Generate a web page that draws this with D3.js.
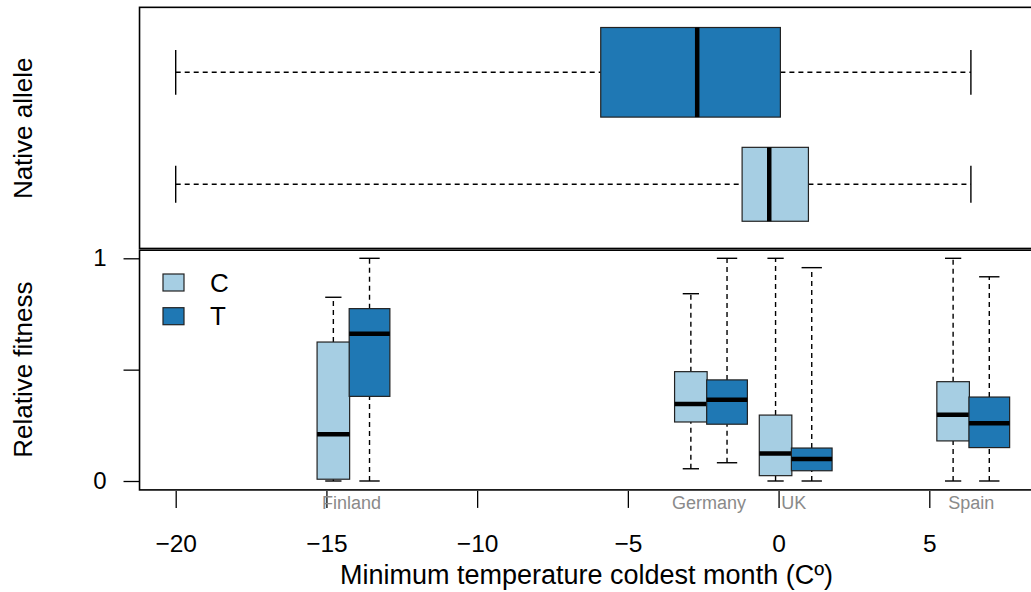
<!DOCTYPE html>
<html>
<head>
<meta charset="utf-8">
<script src="https://cdn.jsdelivr.net/npm/d3@7"></script>
<style>
  body { margin: 0; background: #fff; }
  svg { display: block; font-family: "Liberation Sans", Arial, Helvetica, sans-serif; }
</style>
</head>
<body>
<div id="chart"></div>
<script>
//Datos
const alleles = ['C', 'T'];
const countries = ['Finland', 'Germany', 'UK', 'Spain'];
const countryTemp = [-14.17, -2.31, 0.5, 6.39];

//[min, q1, mediana, q3, max] por país
const fitnessC = [
    [0, 0.008, 0.21, 0.624, 0.825],
    [0.055, 0.265, 0.346, 0.491, 0.841],
    [0, 0.024, 0.124, 0.296, 1.0],
    [0, 0.18, 0.298, 0.446, 1.0]
];
const fitnessT = [
    [0, 0.38, 0.661, 0.774, 1.0],
    [0.082, 0.255, 0.365, 0.454, 1.0],
    [0, 0.046, 0.099, 0.148, 0.958],
    [0, 0.15, 0.259, 0.377, 0.917]
];

//Temperatura mínima del rango nativo de cada alelo
const nativeC = [-20, -1.21, -0.31, 0.99, 6.38];
const nativeT = [-20, -5.90, -2.70, 0.06, 6.38];

const xTicks = [-20, -15, -10, -5, 0, 5];
const yTicks = [0, 0.5, 1];
const yTickLabels = ['0', '', '1'];

//Colores
const COLOR_C = '#A6CEE3', COLOR_T = '#1F78B4';
const colors = { C: COLOR_C, T: COLOR_T };
//anchura de cajas (unidades de temperatura) y desplazamiento
const boxWidth = { C: 1.08, T: 1.35 }, boxOffset = { C: -0.6, T: 0.6 };
const topBoxHalf = { C: 0.33, T: 0.4 };
const DASH = '5,4', LW = 1.4;

let width = 1031, height = 592;

let svg = d3.select('#chart').append('svg')
    .attr('width', width)
    .attr('height', height);

let x = d3.scaleLinear().domain([-20, 5]).range([175.7, 929.3]);
let xMin = -21.2, xMax = 8.8;

let yTop = d3.scaleLinear().domain([1, 2]).range([184.3, 72.3]);
let y = d3.scaleLinear().domain([0, 1]).range([481, 258.3]);

//////// Panel superior: rango nativo
let gTop = svg.append('g');
let topRows = [
    { allele: 'C', pos: 1, v: nativeC },
    { allele: 'T', pos: 2, v: nativeT }
];

topRows.forEach(function(r) {
    let h = topBoxHalf[r.allele];
    let g = gTop.append('g');
    //bigotes
    g.append('line')
        .attr('x1', x(r.v[0])).attr('x2', x(r.v[1]))
        .attr('y1', yTop(r.pos)).attr('y2', yTop(r.pos))
        .attr('stroke', '#000').attr('stroke-width', LW).attr('stroke-dasharray', DASH);
    g.append('line')
        .attr('x1', x(r.v[3])).attr('x2', x(r.v[4]))
        .attr('y1', yTop(r.pos)).attr('y2', yTop(r.pos))
        .attr('stroke', '#000').attr('stroke-width', LW).attr('stroke-dasharray', DASH);
    [r.v[0], r.v[4]].forEach(function(v) {
        g.append('line')
            .attr('x1', x(v)).attr('x2', x(v))
            .attr('y1', yTop(r.pos + h / 2)).attr('y2', yTop(r.pos - h / 2))
            .attr('stroke', '#000').attr('stroke-width', LW);
    });
    g.append('rect')
        .attr('x', x(r.v[1])).attr('width', x(r.v[3]) - x(r.v[1]))
        .attr('y', yTop(r.pos + h)).attr('height', yTop(r.pos - h) - yTop(r.pos + h))
        .attr('fill', colors[r.allele]).attr('stroke', '#222').attr('stroke-width', 1.2);
    g.append('line')
        .attr('x1', x(r.v[2])).attr('x2', x(r.v[2]))
        .attr('y1', yTop(r.pos + h)).attr('y2', yTop(r.pos - h))
        .attr('stroke', '#000').attr('stroke-width', 4.5);
});

gTop.append('rect')
    .attr('x', x(xMin)).attr('y', yTop(2.58))
    .attr('width', x(xMax) - x(xMin)).attr('height', yTop(0.42) - yTop(2.58) - 0.8)
    .attr('fill', 'none').attr('stroke', '#000').attr('stroke-width', 1.6);

svg.append('text')
    .attr('transform', 'translate(32,' + yTop(1.5) + ') rotate(-90)')
    .attr('text-anchor', 'middle')
    .attr('font-size', 26)
    .text('Native allele');

//////// Panel inferior: fitness relativa
let gBot = svg.append('g');
let boxes = [];
countries.forEach(function(c, i) {
    boxes.push({ country: c, allele: 'C', loc: countryTemp[i], v: fitnessC[i] });
    boxes.push({ country: c, allele: 'T', loc: countryTemp[i], v: fitnessT[i] });
});

boxes.forEach(function(b) {
    let cx = b.loc + boxOffset[b.allele];
    let w = boxWidth[b.allele];
    let g = gBot.append('g');
    g.append('line')
        .attr('x1', x(cx)).attr('x2', x(cx))
        .attr('y1', y(b.v[0])).attr('y2', y(b.v[1]))
        .attr('stroke', '#000').attr('stroke-width', LW).attr('stroke-dasharray', DASH);
    g.append('line')
        .attr('x1', x(cx)).attr('x2', x(cx))
        .attr('y1', y(b.v[3])).attr('y2', y(b.v[4]))
        .attr('stroke', '#000').attr('stroke-width', LW).attr('stroke-dasharray', DASH);
    [b.v[0], b.v[4]].forEach(function(v) {
        g.append('line')
            .attr('x1', x(cx - w / 4)).attr('x2', x(cx + w / 4))
            .attr('y1', y(v)).attr('y2', y(v))
            .attr('stroke', '#000').attr('stroke-width', LW);
    });
    g.append('rect')
        .attr('x', x(cx - w / 2)).attr('width', x(cx + w / 2) - x(cx - w / 2))
        .attr('y', y(b.v[3])).attr('height', y(b.v[1]) - y(b.v[3]))
        .attr('fill', colors[b.allele]).attr('stroke', '#222').attr('stroke-width', 1.2);
    g.append('line')
        .attr('x1', x(cx - w / 2)).attr('x2', x(cx + w / 2))
        .attr('y1', y(b.v[2])).attr('y2', y(b.v[2]))
        .attr('stroke', '#000').attr('stroke-width', 4.5);
});

gBot.append('rect')
    .attr('x', x(xMin)).attr('y', y(1.04) + 0.8)
    .attr('width', x(xMax) - x(xMin)).attr('height', y(-0.04) - y(1.04) - 0.8)
    .attr('fill', 'none').attr('stroke', '#000').attr('stroke-width', 1.6);

//eje y
let yAxis = svg.append('g').attr('transform', 'translate(' + x(xMin) + ',0)')
    .call(d3.axisLeft(y).tickValues(yTicks).tickSize(16).tickPadding(17)
        .tickFormat(function(d, i) { return yTickLabels[i]; }));
yAxis.select('.domain').remove();
yAxis.selectAll('.tick line').attr('stroke', '#000').attr('stroke-width', 1.3);
yAxis.selectAll('.tick text').attr('font-size', 24).attr('fill', '#000')
    .attr('font-family', '"Liberation Sans", Arial, Helvetica, sans-serif');

svg.append('text')
    .attr('transform', 'translate(32,' + y(0.5) + ') rotate(-90)')
    .attr('text-anchor', 'middle')
    .attr('font-size', 26)
    .text('Relative fitness');

//eje x
let xAxis = svg.append('g').attr('transform', 'translate(0,' + (y(-0.04) + 1) + ')')
    .call(d3.axisBottom(x).tickValues(xTicks).tickSize(17).tickPadding(27)
        .tickFormat(function(d) { return d < 0 ? '\u2212' + Math.abs(d) : d; }));
xAxis.select('.domain').remove();
xAxis.selectAll('.tick line').attr('stroke', '#000').attr('stroke-width', 1.3);
xAxis.selectAll('.tick text').attr('font-size', 24.5).attr('fill', '#000')
    .attr('font-family', '"Liberation Sans", Arial, Helvetica, sans-serif');

//nombres de países
svg.selectAll('.country')
    .data(countries)
    .enter()
    .append('text')
    .attr('class', 'country')
    .attr('x', function(d, i) { return x(countryTemp[i]); })
    .attr('y', 509)
    .attr('text-anchor', 'middle')
    .attr('font-size', 18)
    .attr('fill', '#8a8a8a')
    .text(function(d) { return d; });

svg.append('text')
    .attr('x', 586.5)
    .attr('y', 584)
    .attr('text-anchor', 'middle')
    .attr('font-size', 27)
    .text('Minimum temperature coldest month (C\u00BA)');

//leyenda
let legend = svg.append('g').attr('transform', 'translate(163,274)');
alleles.forEach(function(a, i) {
    legend.append('rect')
        .attr('x', 0).attr('y', i * 33.7)
        .attr('width', 21).attr('height', 17)
        .attr('fill', colors[a]).attr('stroke', '#222').attr('stroke-width', 1.2);
    legend.append('text')
        .attr('x', 47).attr('y', i * 33.7 + 8.5)
        .attr('dominant-baseline', 'central')
        .attr('font-size', 26)
        .text(a);
});
</script>
</body>
</html>
